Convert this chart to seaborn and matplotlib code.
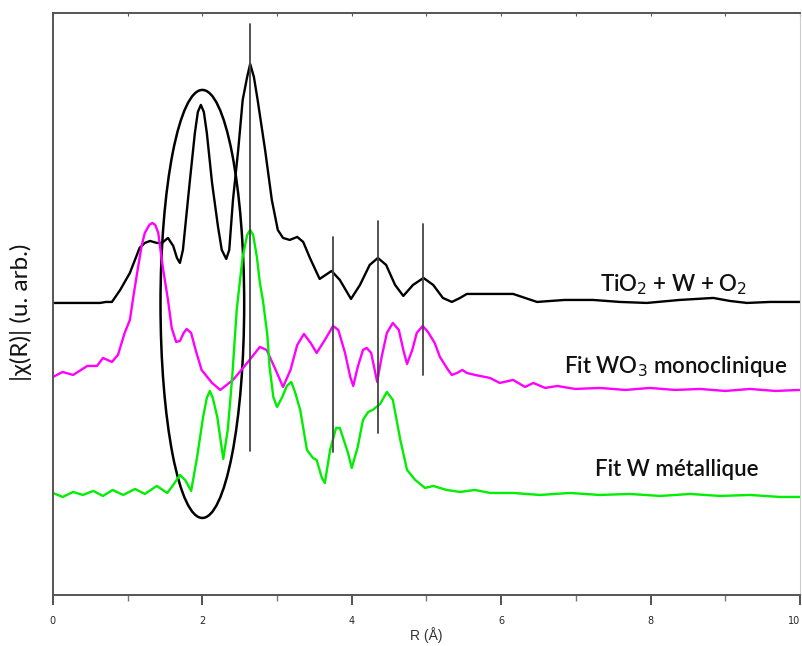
import matplotlib
matplotlib.use("Agg")
import matplotlib.pyplot as plt
from matplotlib.patches import Ellipse
from matplotlib.ticker import MultipleLocator
import pandas as pd
import seaborn as sns

# |chi(R)| curves (arbitrary units, offset stacked)
r_exp = [0.00, 0.63, 0.71, 0.79, 0.90, 1.03, 1.16, 1.23, 1.30, 1.39, 1.46, 1.54, 1.61, 1.66,
         1.70, 1.74, 1.83, 1.90, 1.94, 1.98, 2.02, 2.06, 2.13, 2.21, 2.26, 2.32, 2.36, 2.41,
         2.48, 2.54, 2.60, 2.64, 2.69, 2.74, 2.84, 2.93, 3.01, 3.08, 3.17, 3.27, 3.35, 3.44,
         3.57, 3.65, 3.73, 3.84, 3.99, 4.11, 4.24, 4.35, 4.46, 4.58, 4.69, 4.82, 4.96, 5.09,
         5.22, 5.34, 5.45, 5.54, 5.98, 6.16, 6.48, 6.85, 7.23, 7.59, 7.95, 8.39, 8.84, 9.06,
         9.29, 9.60, 10.0]
chi_exp = [2.92, 2.92, 2.93, 2.93, 3.05, 3.22, 3.47, 3.52, 3.54, 3.52, 3.52, 3.57, 3.49, 3.37,
           3.32, 3.45, 4.12, 4.62, 4.83, 4.90, 4.83, 4.62, 4.12, 3.68, 3.45, 3.36, 3.45, 3.95,
           4.45, 4.95, 5.18, 5.31, 5.18, 4.95, 4.45, 3.95, 3.65, 3.57, 3.55, 3.58, 3.53, 3.37,
           3.16, 3.20, 3.24, 3.15, 2.96, 3.10, 3.30, 3.37, 3.30, 3.10, 2.99, 3.10, 3.17, 3.10,
           2.97, 2.93, 2.97, 3.01, 3.01, 3.01, 2.93, 2.95, 2.95, 2.93, 2.92, 2.95, 2.97, 2.94,
           2.92, 2.93, 2.93]

r_wo3 = [0.00, 0.13, 0.27, 0.46, 0.59, 0.67, 0.79, 0.87, 0.96, 1.03, 1.08, 1.14, 1.19, 1.23,
         1.29, 1.33, 1.37, 1.41, 1.47, 1.54, 1.59, 1.65, 1.70, 1.75, 1.79, 1.85, 1.91, 1.99,
         2.13, 2.24, 2.41, 2.60, 2.77, 2.86, 2.97, 3.08, 3.18, 3.27, 3.36, 3.45, 3.53, 3.64,
         3.75, 3.82, 3.91, 3.98, 4.02, 4.08, 4.15, 4.20, 4.26, 4.34, 4.40, 4.47, 4.55, 4.63,
         4.69, 4.74, 4.81, 4.87, 4.95, 5.02, 5.11, 5.18, 5.29, 5.34, 5.41, 5.48, 5.54, 5.65,
         5.85, 5.98, 6.16, 6.32, 6.43, 6.59, 6.75, 6.99, 7.32, 7.66, 7.99, 8.33, 8.66, 9.00,
         9.33, 9.67, 10.0]
chi_wo3 = [2.18, 2.23, 2.20, 2.29, 2.29, 2.37, 2.33, 2.40, 2.62, 2.75, 3.00, 3.28, 3.50, 3.62,
           3.70, 3.72, 3.70, 3.62, 3.28, 2.95, 2.67, 2.53, 2.54, 2.62, 2.66, 2.62, 2.45, 2.25,
           2.12, 2.05, 2.15, 2.32, 2.48, 2.45, 2.27, 2.08, 2.25, 2.50, 2.61, 2.52, 2.42, 2.55,
           2.69, 2.65, 2.42, 2.18, 2.09, 2.28, 2.45, 2.47, 2.42, 2.13, 2.38, 2.62, 2.72, 2.65,
           2.45, 2.31, 2.45, 2.62, 2.69, 2.63, 2.52, 2.38, 2.25, 2.20, 2.22, 2.25, 2.22, 2.20,
           2.17, 2.12, 2.15, 2.08, 2.12, 2.07, 2.09, 2.06, 2.07, 2.05, 2.07, 2.05, 2.06, 2.04,
           2.06, 2.04, 2.05]

r_w = [0.00, 0.13, 0.27, 0.40, 0.54, 0.67, 0.80, 0.94, 1.10, 1.23, 1.39, 1.53, 1.61, 1.70,
       1.77, 1.85, 1.93, 2.01, 2.06, 2.10, 2.14, 2.20, 2.28, 2.34, 2.40, 2.46, 2.50, 2.54,
       2.60, 2.64, 2.68, 2.73, 2.77, 2.81, 2.87, 2.90, 2.95, 3.00, 3.07, 3.13, 3.19, 3.24,
       3.31, 3.40, 3.48, 3.53, 3.60, 3.64, 3.71, 3.79, 3.84, 3.95, 4.00, 4.08, 4.15, 4.22,
       4.28, 4.38, 4.47, 4.55, 4.65, 4.74, 4.85, 4.98, 5.09, 5.27, 5.45, 5.65, 5.85, 6.16,
       6.52, 6.92, 7.32, 7.72, 8.13, 8.53, 8.93, 9.33, 9.73, 10.0]
chi_w = [1.02, 0.98, 1.03, 1.00, 1.04, 0.99, 1.05, 1.00, 1.06, 1.01, 1.09, 1.02, 1.10, 1.20,
         1.15, 1.04, 1.38, 1.78, 1.97, 2.04, 1.97, 1.78, 1.36, 1.65, 2.18, 2.85, 3.12, 3.38,
         3.60, 3.65, 3.60, 3.38, 3.12, 2.95, 2.60, 2.28, 1.98, 1.88, 1.98, 2.09, 2.13, 2.03,
         1.85, 1.45, 1.37, 1.35, 1.17, 1.12, 1.45, 1.67, 1.67, 1.42, 1.27, 1.48, 1.75, 1.83,
         1.85, 1.91, 2.03, 1.95, 1.55, 1.25, 1.15, 1.07, 1.09, 1.05, 1.03, 1.05, 1.02, 1.02,
         1.00, 1.02, 1.00, 1.01, 0.99, 1.01, 0.99, 1.00, 0.98, 0.98]

labels = ["TiO$_2$ + W + O$_2$", "Fit WO$_3$ monoclinique", "Fit W métallique"]
colors = ["black", "#ff00ff", "#00ee00"]
label_pos = [(8.30, 3.10), (8.33, 2.28), (8.35, 1.25)]

# marker lines (R, y bottom, y top) and the circled region
vlines = [(2.64, 1.44, 5.71), (3.75, 1.43, 3.58), (4.35, 1.62, 3.74), (4.95, 2.20, 3.71)]
circle = (2.0, 2.91, 1.12, 4.28)

sns.set_style("white")
fig = plt.figure(figsize=(8.02, 6.46), dpi=100)
ax = fig.add_axes([0.066, 0.079, 0.9315, 0.901])

curves = [(r_exp, chi_exp), (r_wo3, chi_wo3), (r_w, chi_w)]
for (r, chi), lab, col in zip(curves, labels, colors):
    df = pd.DataFrame({"R": r, "chi": chi})
    sns.lineplot(data=df, x="R", y="chi", color=col, lw=1.7, ax=ax,
                 solid_joinstyle="round")

for x, y0, y1 in vlines:
    ax.plot([x, x], [y0, y1], color="#444444", lw=1.3)

cx, cy, w, h = circle
ax.add_patch(Ellipse((cx, cy), w, h, fill=False, ec="black", lw=1.8))

for lab, (x, y) in zip(labels, label_pos):
    ax.text(x, y, lab, ha="center", va="center", fontsize=16, family="Lato",
            fontweight=600, color="#111111")

ax.set_xlim(0, 10)
ax.set_ylim(0, 5.82)
ax.xaxis.set_major_locator(MultipleLocator(2))
ax.xaxis.set_minor_locator(MultipleLocator(1))
ax.set_xticks(range(0, 11, 2), ["0", "2", "4", "6", "8", "10"])
ax.get_xticklabels()[-1].set_ha("right")
ax.set_yticks([])
ax.tick_params(axis="x", which="major", bottom=True, direction="out", length=7,
               width=1.2, color="#333333", labelsize=7, pad=8)
ax.tick_params(axis="x", which="minor", bottom=True, direction="out", length=4,
               width=1.0, color="#777777")
top = ax.secondary_xaxis("top")
top.xaxis.set_major_locator(MultipleLocator(1))
top.tick_params(top=True, direction="in", length=2, labeltop=False, color="#555555")
top.spines["top"].set_visible(False)

for side, sp in ax.spines.items():
    sp.set_color("#555555")
    sp.set_linewidth(1.4)
ax.spines["right"].set_color("#cccccc")
ax.spines["right"].set_linewidth(0.8)

ax.set_xlabel("R (Å)", fontsize=10, family="Liberation Sans", color="#333333", labelpad=1)
ax.set_ylabel("|χ(R)| (u. arb.)", fontsize=17.5, family="Lato", color="#111111")
ax.yaxis.set_label_coords(-0.028, 0.486)

fig.savefig("out.png", dpi=100)
